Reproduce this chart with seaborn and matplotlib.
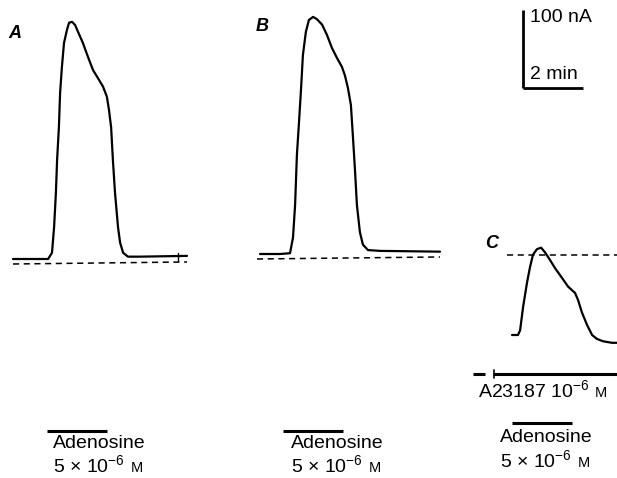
import numpy as np
import pandas as pd
import matplotlib
matplotlib.use("Agg")
import matplotlib.pyplot as plt
import seaborn as sns

sns.set_style("white")
plt.rcParams['font.family'] = ['Liberation Sans', 'DejaVu Sans']
plt.rcParams['text.color'] = 'black'
plt.rcParams['mathtext.fontset'] = 'custom'
plt.rcParams['mathtext.rm'] = 'Liberation Sans'
plt.rcParams['mathtext.it'] = 'Liberation Sans:italic'

# ---- data: time (min) and current (nA) ----
a_time = [0, 0.90, 1.17, 1.30, 1.37, 1.43, 1.47, 1.53, 1.57, 1.63, 1.70, 1.80, 1.87, 1.97, 2.07, 2.17,
          2.33, 2.50, 2.67, 2.83, 3.00, 3.13, 3.20, 3.27, 3.33, 3.40, 3.50, 3.57, 3.67, 3.83, 4.23, 5.8]
a_curr = [0, 0, 0, 8, 41, 85, 127, 169, 213, 246, 277, 294, 303, 304, 300, 291,
          277, 259, 242, 232, 221, 208, 191, 169, 127, 85, 41, 21, 8, 3, 3, 4]
a_base_t = [0, 5.8]
a_base_i = [-6.4, -3.8]

b_time = [0, 0.67, 1.0, 1.10, 1.17, 1.23, 1.30, 1.37, 1.43, 1.53, 1.63, 1.77, 1.90, 2.07, 2.23, 2.40,
          2.57, 2.73, 2.83, 2.93, 3.03, 3.10, 3.17, 3.23, 3.33, 3.43, 3.60, 4.0, 6.0]
b_curr = [0, 0, 1, 21, 63, 127, 169, 213, 255, 285, 300, 304, 301, 294, 281, 264,
          251, 240, 229, 213, 191, 149, 105, 63, 28, 12, 5, 4, 3]
b_base_t = [-0.1, 6.0]
b_base_i = [-6.4, -3.8]

c_time = [0, 0.2, 0.27, 0.37, 0.5, 0.6, 0.7, 0.83, 0.97, 1.1, 1.27, 1.43, 1.67, 1.87, 2.1, 2.2,
          2.33, 2.5, 2.67, 2.83, 3.03, 3.33, 3.5]
c_curr = [0, 0, 6, 36, 67, 87, 103, 110, 112, 106, 96, 86, 73, 62, 54, 45,
          29, 13, 0, -5, -8, -10, -10]
c_base_t = [-0.17, 3.6]
c_base_i = [103, 103]

panel_labels = ["A", "B", "C"]
drug_label = "Adenosine"
conc_label = r"5 × 10$^{-6}$"
unit_label = "M"
ionophore_label = r"A23187 10$^{-6}$"
scale_i_label = "100 nA"
scale_t_label = "2 min"
scale_i = 100   # nA
scale_t = 2     # min
adeno_dur = 2.0 # min (bar length)

# ---- layout (pixel frame) ----
PX_MIN = 30.0
PX_NA = 0.78
origins = {"A": (13, 259), "B": (260, 254), "C": (512, 335)}

fig = plt.figure(figsize=(6.17, 4.78), dpi=100)
ax = fig.add_axes([0, 0, 1, 1])
ax.set_xlim(0, 617)
ax.set_ylim(478, 0)
ax.axis("off")

def to_px(panel, t, i):
    x0, y0 = origins[panel]
    return x0 + np.asarray(t) * PX_MIN, y0 - np.asarray(i) * PX_NA

traces = {"A": (a_time, a_curr, a_base_t, a_base_i),
          "B": (b_time, b_curr, b_base_t, b_base_i),
          "C": (c_time, c_curr, c_base_t, c_base_i)}

for p, (t, i, bt, bi) in traces.items():
    x, y = to_px(p, t, i)
    df = pd.DataFrame({"x": x, "y": y})
    sns.lineplot(data=df, x="x", y="y", sort=False, estimator=None, ax=ax,
                 color="black", lw=1.6, solid_joinstyle="round", solid_capstyle="round")
    bx, by = to_px(p, bt, bi)
    dfb = pd.DataFrame({"x": bx, "y": by})
    sns.lineplot(data=dfb, x="x", y="y", sort=False, estimator=None, ax=ax,
                 color="black", lw=1.1, linestyle=(0, (4, 3)))

# small mark at end of A trace
mx, my = to_px("A", [5.5, 5.5], [8, -2])
ax.plot(mx, my, color="black", lw=1.0)

# panel letters
ax.text(8, 33, panel_labels[0], fontsize=13, style="italic", fontweight="bold", va="center")
ax.text(256, 26, panel_labels[1], fontsize=13, style="italic", fontweight="bold", va="center")
ax.text(485, 243, panel_labels[2], fontsize=13, style="italic", fontweight="bold", va="center")

# scale bar
sx0, sy0 = 523, 88
ax.plot([sx0, sx0], [sy0, sy0 - scale_i * PX_NA], color="black", lw=2.0, solid_capstyle="butt")
ax.plot([sx0, sx0 + scale_t * PX_MIN], [sy0, sy0], color="black", lw=2.0, solid_capstyle="butt")
ax.text(530, 17, scale_i_label, fontsize=14, va="center")
ax.text(530, 74, scale_t_label, fontsize=14, va="center")

# A23187 bar
ax.plot([473, 485], [374, 374], color="black", lw=2.2, solid_capstyle="butt")
ax.plot([493, 617], [374, 374], color="black", lw=2.2, solid_capstyle="butt")
ax.plot([494, 494], [370, 378], color="black", lw=1.2)
t_ion = ax.text(478, 390, ionophore_label, fontsize=14, va="center")
ax.annotate(unit_label, xy=(1, 0), xycoords=t_ion, xytext=(4, 1),
            textcoords="offset points", fontsize=10.5, va="bottom")

# adenosine bars and labels
adeno = [(47, 431, 53, 443, 465), (283, 431, 291, 443, 465), (512, 423, 500, 438, 460)]
for bx0, by, tx, ty1, ty2 in adeno:
    ax.plot([bx0, bx0 + adeno_dur * PX_MIN], [by, by], color="black", lw=2.2, solid_capstyle="butt")
    ax.text(tx, ty1, drug_label, fontsize=14, va="center")
    tc = ax.text(tx, ty2, conc_label, fontsize=14, va="center")
    ax.annotate(unit_label, xy=(1, 0), xycoords=tc, xytext=(4, 1),
                textcoords="offset points", fontsize=10.5, va="bottom")

fig.savefig("out.png", dpi=100)
